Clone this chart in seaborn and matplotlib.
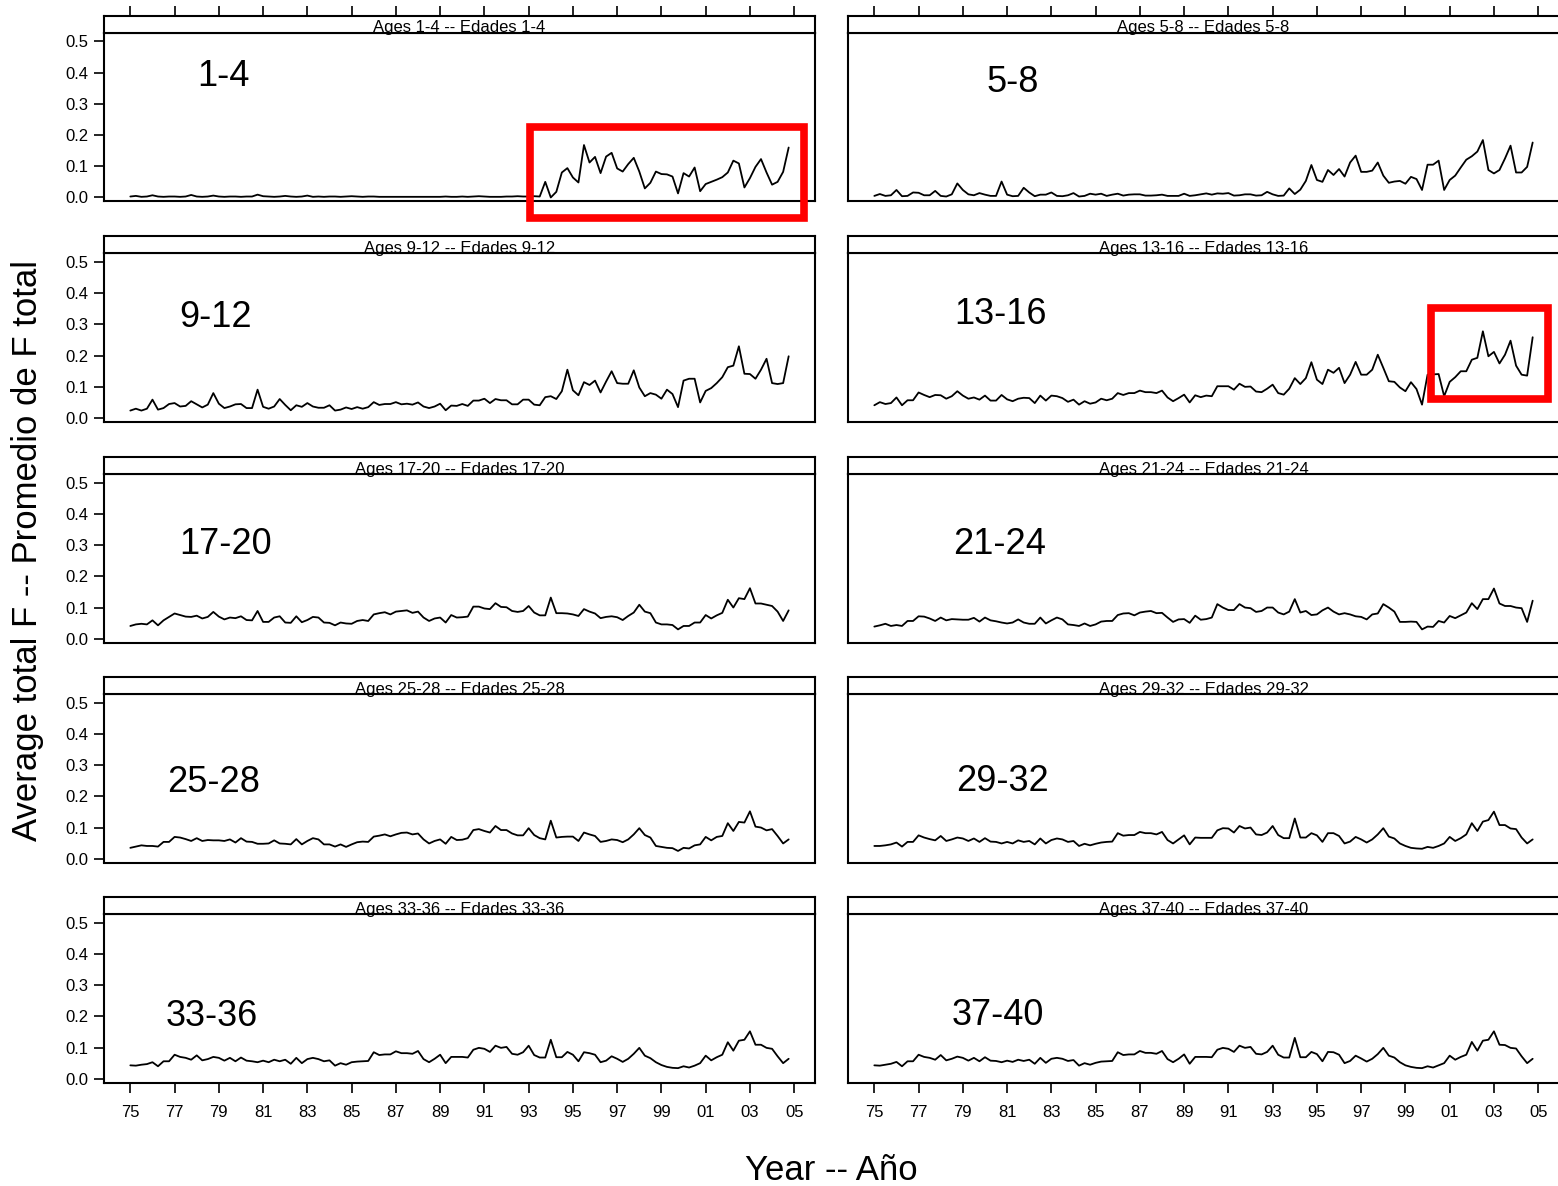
import numpy as np
import pandas as pd
import matplotlib
matplotlib.use("Agg")
import matplotlib.pyplot as plt
from matplotlib.patches import Rectangle
import seaborn as sns

# ---------------- data ----------------
age_groups = ["1-4", "5-8", "9-12", "13-16", "17-20",
              "21-24", "25-28", "29-32", "33-36", "37-40"]

first_year = 1975
n_quarters = 120

tick_years = [1975, 1977, 1979, 1981, 1983, 1985, 1987, 1989,
              1991, 1993, 1995, 1997, 1999, 2001, 2003, 2005]
tick_labels = ["75", "77", "79", "81", "83", "85", "87", "89",
               "91", "93", "95", "97", "99", "01", "03", "05"]
y_ticks = [0.0, 0.1, 0.2, 0.3, 0.4, 0.5]
y_tick_labels = ["0.0", "0.1", "0.2", "0.3", "0.4", "0.5"]

f_1_4 = [0.003, 0.005, 0.002, 0.003, 0.007, 0.003, 0.002, 0.003, 0.003, 0.002,
         0.003, 0.008, 0.003, 0.002, 0.003, 0.006, 0.003, 0.002, 0.003, 0.003,
         0.002, 0.003, 0.003, 0.009, 0.004, 0.003, 0.002, 0.003, 0.005, 0.003,
         0.002, 0.003, 0.006, 0.002, 0.003, 0.002, 0.003, 0.003, 0.002, 0.003,
         0.004, 0.003, 0.002, 0.003, 0.003, 0.002, 0.002, 0.002, 0.002, 0.002,
         0.002, 0.002, 0.002, 0.002, 0.002, 0.002, 0.002, 0.003, 0.002, 0.002,
         0.003, 0.002, 0.003, 0.004, 0.003, 0.002, 0.002, 0.002, 0.003, 0.003,
         0.004, 0.003, 0.003, 0.004, 0.003, 0.050, 0.000, 0.018, 0.080, 0.094,
         0.064, 0.048, 0.168, 0.112, 0.130, 0.078, 0.131, 0.143, 0.093, 0.083,
         0.107, 0.127, 0.083, 0.029, 0.047, 0.083, 0.075, 0.074, 0.067, 0.013,
         0.078, 0.067, 0.096, 0.020, 0.043, 0.050, 0.057, 0.065, 0.080, 0.118,
         0.109, 0.032, 0.062, 0.098, 0.123, 0.080, 0.041, 0.050, 0.082, 0.160]

f_5_8 = [0.005, 0.011, 0.005, 0.007, 0.024, 0.004, 0.005, 0.016, 0.015, 0.007,
         0.007, 0.021, 0.005, 0.003, 0.010, 0.045, 0.024, 0.010, 0.007, 0.014,
         0.009, 0.005, 0.005, 0.051, 0.009, 0.004, 0.005, 0.031, 0.016, 0.004,
         0.009, 0.009, 0.016, 0.005, 0.004, 0.007, 0.014, 0.003, 0.005, 0.012,
         0.009, 0.012, 0.005, 0.009, 0.012, 0.006, 0.009, 0.010, 0.010, 0.006,
         0.006, 0.007, 0.009, 0.005, 0.005, 0.005, 0.012, 0.005, 0.007, 0.010,
         0.013, 0.009, 0.013, 0.012, 0.014, 0.006, 0.007, 0.010, 0.010, 0.006,
         0.007, 0.018, 0.010, 0.005, 0.006, 0.029, 0.011, 0.025, 0.053, 0.104,
         0.056, 0.050, 0.088, 0.072, 0.091, 0.067, 0.112, 0.134, 0.082, 0.082,
         0.086, 0.112, 0.070, 0.047, 0.051, 0.053, 0.044, 0.066, 0.059, 0.024,
         0.105, 0.105, 0.118, 0.024, 0.056, 0.070, 0.096, 0.121, 0.132, 0.147,
         0.184, 0.088, 0.077, 0.088, 0.125, 0.166, 0.080, 0.080, 0.098, 0.176]

f_9_12 = [0.024, 0.030, 0.024, 0.030, 0.059, 0.027, 0.032, 0.045, 0.048, 0.037,
          0.039, 0.054, 0.044, 0.034, 0.043, 0.080, 0.046, 0.032, 0.037, 0.044,
          0.045, 0.032, 0.032, 0.091, 0.036, 0.030, 0.037, 0.061, 0.042, 0.025,
          0.041, 0.036, 0.048, 0.037, 0.033, 0.033, 0.041, 0.024, 0.027, 0.034,
          0.029, 0.035, 0.030, 0.035, 0.051, 0.042, 0.045, 0.045, 0.051, 0.044,
          0.046, 0.043, 0.050, 0.037, 0.032, 0.037, 0.046, 0.025, 0.040, 0.039,
          0.045, 0.039, 0.056, 0.056, 0.062, 0.048, 0.061, 0.057, 0.057, 0.044,
          0.044, 0.059, 0.059, 0.043, 0.041, 0.067, 0.070, 0.061, 0.086, 0.155,
          0.089, 0.073, 0.115, 0.106, 0.120, 0.082, 0.117, 0.150, 0.112, 0.110,
          0.110, 0.153, 0.098, 0.070, 0.080, 0.075, 0.062, 0.091, 0.077, 0.035,
          0.120, 0.126, 0.126, 0.050, 0.087, 0.096, 0.112, 0.131, 0.163, 0.168,
          0.230, 0.142, 0.141, 0.126, 0.155, 0.190, 0.112, 0.109, 0.112, 0.198]

f_13_16 = [0.041, 0.051, 0.045, 0.048, 0.066, 0.041, 0.057, 0.057, 0.082, 0.074,
           0.067, 0.074, 0.073, 0.062, 0.070, 0.086, 0.072, 0.062, 0.066, 0.059,
           0.072, 0.056, 0.056, 0.074, 0.060, 0.054, 0.062, 0.065, 0.064, 0.048,
           0.072, 0.056, 0.072, 0.070, 0.064, 0.052, 0.059, 0.043, 0.054, 0.046,
           0.050, 0.062, 0.057, 0.062, 0.080, 0.074, 0.080, 0.080, 0.088, 0.083,
           0.083, 0.080, 0.088, 0.066, 0.054, 0.064, 0.075, 0.050, 0.073, 0.067,
           0.072, 0.070, 0.102, 0.102, 0.102, 0.091, 0.110, 0.100, 0.101, 0.085,
           0.083, 0.094, 0.107, 0.080, 0.075, 0.094, 0.128, 0.109, 0.128, 0.179,
           0.123, 0.109, 0.155, 0.145, 0.161, 0.112, 0.139, 0.180, 0.139, 0.139,
           0.155, 0.203, 0.161, 0.118, 0.116, 0.098, 0.086, 0.115, 0.093, 0.043,
           0.139, 0.140, 0.141, 0.070, 0.116, 0.131, 0.150, 0.150, 0.187, 0.193,
           0.278, 0.198, 0.212, 0.175, 0.203, 0.248, 0.168, 0.139, 0.136, 0.259]

f_17_20 = [0.041, 0.046, 0.048, 0.046, 0.059, 0.043, 0.059, 0.070, 0.081, 0.076,
           0.071, 0.070, 0.074, 0.065, 0.070, 0.086, 0.071, 0.062, 0.068, 0.066,
           0.072, 0.060, 0.059, 0.089, 0.054, 0.054, 0.068, 0.072, 0.052, 0.051,
           0.072, 0.053, 0.060, 0.070, 0.068, 0.052, 0.051, 0.043, 0.052, 0.049,
           0.048, 0.057, 0.060, 0.057, 0.078, 0.082, 0.085, 0.078, 0.087, 0.089,
           0.091, 0.083, 0.087, 0.068, 0.057, 0.065, 0.068, 0.052, 0.076, 0.068,
           0.069, 0.071, 0.103, 0.103, 0.097, 0.095, 0.114, 0.102, 0.101, 0.089,
           0.086, 0.089, 0.105, 0.084, 0.075, 0.075, 0.132, 0.082, 0.082, 0.081,
           0.078, 0.073, 0.095, 0.087, 0.081, 0.066, 0.070, 0.072, 0.069, 0.060,
           0.073, 0.084, 0.109, 0.087, 0.082, 0.052, 0.046, 0.046, 0.044, 0.030,
           0.041, 0.041, 0.052, 0.052, 0.076, 0.065, 0.075, 0.083, 0.125, 0.100,
           0.130, 0.127, 0.162, 0.113, 0.113, 0.109, 0.105, 0.087, 0.057, 0.091]

f_21_24 = [0.039, 0.043, 0.048, 0.041, 0.044, 0.041, 0.057, 0.057, 0.072, 0.071,
           0.065, 0.057, 0.068, 0.059, 0.063, 0.062, 0.061, 0.061, 0.067, 0.055,
           0.068, 0.059, 0.056, 0.052, 0.049, 0.052, 0.062, 0.052, 0.048, 0.048,
           0.068, 0.049, 0.059, 0.068, 0.062, 0.046, 0.044, 0.041, 0.049, 0.041,
           0.046, 0.055, 0.057, 0.057, 0.076, 0.081, 0.082, 0.075, 0.084, 0.087,
           0.089, 0.082, 0.083, 0.068, 0.054, 0.062, 0.063, 0.051, 0.074, 0.061,
           0.063, 0.068, 0.111, 0.100, 0.092, 0.092, 0.111, 0.100, 0.098, 0.086,
           0.089, 0.100, 0.100, 0.084, 0.078, 0.087, 0.127, 0.084, 0.089, 0.076,
           0.078, 0.091, 0.100, 0.087, 0.078, 0.082, 0.078, 0.072, 0.070, 0.062,
           0.078, 0.081, 0.111, 0.100, 0.087, 0.054, 0.054, 0.055, 0.054, 0.030,
           0.039, 0.038, 0.057, 0.052, 0.073, 0.066, 0.075, 0.084, 0.114, 0.095,
           0.127, 0.127, 0.161, 0.113, 0.105, 0.105, 0.100, 0.098, 0.054, 0.122]

f_25_28 = [0.035, 0.039, 0.043, 0.041, 0.041, 0.039, 0.054, 0.054, 0.070, 0.068,
           0.063, 0.057, 0.066, 0.057, 0.060, 0.059, 0.059, 0.057, 0.062, 0.052,
           0.066, 0.055, 0.054, 0.048, 0.048, 0.049, 0.059, 0.049, 0.048, 0.046,
           0.063, 0.046, 0.057, 0.066, 0.062, 0.046, 0.046, 0.039, 0.046, 0.038,
           0.046, 0.053, 0.055, 0.054, 0.071, 0.074, 0.078, 0.072, 0.078, 0.083,
           0.084, 0.078, 0.081, 0.062, 0.049, 0.057, 0.062, 0.048, 0.070, 0.060,
           0.061, 0.066, 0.092, 0.095, 0.089, 0.084, 0.105, 0.092, 0.092, 0.081,
           0.075, 0.075, 0.098, 0.076, 0.066, 0.062, 0.122, 0.068, 0.070, 0.071,
           0.071, 0.057, 0.084, 0.078, 0.073, 0.054, 0.057, 0.062, 0.060, 0.053,
           0.062, 0.078, 0.098, 0.076, 0.068, 0.041, 0.038, 0.035, 0.034, 0.025,
           0.035, 0.033, 0.043, 0.046, 0.070, 0.059, 0.070, 0.073, 0.114, 0.089,
           0.118, 0.116, 0.152, 0.103, 0.100, 0.091, 0.095, 0.073, 0.049, 0.062]

f_29_32 = [0.041, 0.041, 0.043, 0.046, 0.052, 0.039, 0.054, 0.054, 0.075, 0.068,
           0.063, 0.059, 0.073, 0.057, 0.062, 0.068, 0.065, 0.057, 0.065, 0.054,
           0.066, 0.055, 0.054, 0.049, 0.054, 0.049, 0.059, 0.054, 0.057, 0.046,
           0.065, 0.049, 0.060, 0.065, 0.062, 0.054, 0.057, 0.041, 0.048, 0.043,
           0.048, 0.052, 0.054, 0.055, 0.082, 0.074, 0.076, 0.076, 0.086, 0.082,
           0.082, 0.078, 0.086, 0.060, 0.049, 0.062, 0.075, 0.046, 0.068, 0.067,
           0.067, 0.067, 0.091, 0.098, 0.097, 0.084, 0.105, 0.097, 0.100, 0.078,
           0.076, 0.084, 0.105, 0.076, 0.066, 0.066, 0.129, 0.068, 0.068, 0.082,
           0.075, 0.054, 0.082, 0.082, 0.073, 0.049, 0.055, 0.070, 0.062, 0.052,
           0.062, 0.078, 0.098, 0.071, 0.065, 0.049, 0.041, 0.035, 0.033, 0.032,
           0.038, 0.035, 0.041, 0.049, 0.070, 0.057, 0.066, 0.078, 0.114, 0.089,
           0.119, 0.124, 0.151, 0.108, 0.108, 0.097, 0.095, 0.068, 0.049, 0.062]

f_33_36 = [0.043, 0.042, 0.045, 0.047, 0.053, 0.040, 0.056, 0.056, 0.077, 0.070,
           0.067, 0.061, 0.075, 0.059, 0.063, 0.070, 0.067, 0.058, 0.067, 0.056,
           0.068, 0.058, 0.056, 0.053, 0.058, 0.053, 0.061, 0.056, 0.061, 0.048,
           0.067, 0.050, 0.063, 0.067, 0.063, 0.056, 0.059, 0.042, 0.050, 0.045,
           0.053, 0.055, 0.056, 0.057, 0.085, 0.076, 0.078, 0.078, 0.088, 0.082,
           0.082, 0.080, 0.089, 0.063, 0.053, 0.064, 0.077, 0.050, 0.070, 0.070,
           0.070, 0.068, 0.093, 0.099, 0.096, 0.086, 0.106, 0.099, 0.102, 0.080,
           0.077, 0.085, 0.106, 0.076, 0.068, 0.068, 0.125, 0.069, 0.069, 0.086,
           0.077, 0.056, 0.085, 0.082, 0.077, 0.053, 0.058, 0.072, 0.064, 0.054,
           0.064, 0.080, 0.099, 0.074, 0.066, 0.053, 0.044, 0.038, 0.035, 0.034,
           0.040, 0.036, 0.042, 0.050, 0.074, 0.059, 0.069, 0.077, 0.117, 0.090,
           0.122, 0.125, 0.152, 0.109, 0.109, 0.099, 0.096, 0.072, 0.050, 0.064]

f_37_40 = [0.043, 0.042, 0.045, 0.048, 0.054, 0.040, 0.056, 0.056, 0.077, 0.070,
           0.067, 0.061, 0.076, 0.059, 0.064, 0.071, 0.067, 0.058, 0.067, 0.056,
           0.069, 0.058, 0.057, 0.053, 0.058, 0.054, 0.061, 0.057, 0.061, 0.048,
           0.067, 0.051, 0.064, 0.067, 0.064, 0.057, 0.060, 0.042, 0.050, 0.045,
           0.051, 0.055, 0.056, 0.057, 0.085, 0.076, 0.078, 0.078, 0.089, 0.083,
           0.083, 0.080, 0.089, 0.063, 0.053, 0.064, 0.078, 0.048, 0.070, 0.070,
           0.070, 0.069, 0.093, 0.099, 0.096, 0.086, 0.106, 0.099, 0.102, 0.080,
           0.078, 0.086, 0.106, 0.077, 0.068, 0.068, 0.131, 0.069, 0.069, 0.086,
           0.079, 0.056, 0.086, 0.085, 0.077, 0.050, 0.057, 0.074, 0.065, 0.055,
           0.064, 0.079, 0.099, 0.074, 0.068, 0.053, 0.043, 0.038, 0.035, 0.034,
           0.040, 0.036, 0.043, 0.050, 0.074, 0.061, 0.070, 0.077, 0.118, 0.090,
           0.122, 0.125, 0.152, 0.109, 0.108, 0.099, 0.097, 0.072, 0.050, 0.064]

# ---------------- layout / style (not data) ----------------
series_list = [f_1_4, f_5_8, f_9_12, f_13_16, f_17_20,
               f_21_24, f_25_28, f_29_32, f_33_36, f_37_40]
quarter_years = first_year + np.arange(n_quarters) / 4.0

rows = []
for g, vals in zip(age_groups, series_list):
    for yr, v in zip(quarter_years, vals):
        rows.append({"group": g, "year": yr, "F": v})
df = pd.DataFrame(rows)

# big inner label anchor (x in years, baseline y in F units)
label_pos = [(1979.21, 0.358), (1981.27, 0.339), (1978.87, 0.293), (1980.72, 0.302),
             (1979.32, 0.272), (1980.68, 0.272), (1978.74, 0.215), (1980.81, 0.218),
             (1978.69, 0.170), (1980.59, 0.173)]
# highlighted boxes: panel index -> (x0, y0, x1, y1)
red_boxes = {0: (1993.06, -0.067, 2005.45, 0.227),
             3: (2000.15, 0.062, 2005.45, 0.353)}

sns.set_style("white")
plt.rcParams["font.family"] = ["Liberation Sans", "DejaVu Sans"]

W, H = 1558, 1186
fig = plt.figure(figsize=(W / 100, H / 100), dpi=100)


def rect(l, t, w, h):
    return [l / W, 1 - (t + h) / H, w / W, h / H]


col_left = [104, 848]
panel_w = 711
plot_top = [32.7, 253.3, 474.0, 694.0, 914.0]
plot_h = 168.5
strip_h = 17.0
XLIM = (1973.81, 2005.94)
YLIM = (-0.012, 0.528)
SPINE_LW = 1.5

for i, g in enumerate(age_groups):
    r, c = divmod(i, 2)
    ax = fig.add_axes(rect(col_left[c], plot_top[r], panel_w, plot_h))
    sub = df[df["group"] == g]
    sns.lineplot(data=sub, x="year", y="F", ax=ax, color="black",
                 linewidth=1.3, estimator=None, legend=False)
    ax.set_xlim(XLIM)
    ax.set_ylim(YLIM)
    ax.set_xlabel("")
    ax.set_ylabel("")
    for name, sp in ax.spines.items():
        sp.set_visible(True)
        sp.set_color("black")
        sp.set_linewidth(SPINE_LW)
    if c == 1:
        ax.spines["right"].set_visible(False)

    # x ticks only on bottom row
    ax.set_xticks(tick_years)
    if r == 4:
        ax.set_xticklabels(tick_labels)
        ax.tick_params(axis="x", bottom=True, top=False, labelbottom=True,
                       length=7, width=1.2, direction="out", pad=9,
                       labelsize=12, color="black", labelcolor="black")
    else:
        ax.tick_params(axis="x", bottom=False, top=False, labelbottom=False)

    # y ticks only on left column
    ax.set_yticks(y_ticks)
    if c == 0:
        ax.set_yticklabels(y_tick_labels)
        ax.tick_params(axis="y", left=True, right=False, labelleft=True,
                       length=7, width=1.2, direction="out", pad=4.5,
                       labelsize=12, color="black", labelcolor="black")
    else:
        ax.tick_params(axis="y", left=False, right=False, labelleft=False)

    lx, ly = label_pos[i]
    ax.text(lx, ly, g, fontsize=26, ha="center", va="baseline", color="black")

    if i in red_boxes:
        x0, y0, x1, y1 = red_boxes[i]
        ax.add_patch(Rectangle((x0, y0), x1 - x0, y1 - y0, fill=False,
                               edgecolor="#ff0000", linewidth=5.5,
                               clip_on=False, zorder=5))

    # strip
    sax = fig.add_axes(rect(col_left[c], plot_top[r] - strip_h, panel_w, strip_h))
    sax.set_xlim(XLIM)
    sax.set_ylim(0, 1)
    sax.set_yticks([])
    sax.set_facecolor("white")
    for sp in sax.spines.values():
        sp.set_visible(True)
        sp.set_color("black")
        sp.set_linewidth(SPINE_LW)
    if c == 1:
        sax.spines["right"].set_visible(False)
    if r == 0:
        sax.set_xticks(tick_years)
        sax.tick_params(axis="x", top=True, bottom=False, labeltop=False,
                        labelbottom=False, length=7, width=1.2,
                        direction="out", color="black")
    else:
        sax.set_xticks([])
    sax.text(0.5, 0.02, f"Ages {g} -- Edades {g}", transform=sax.transAxes,
             ha="center", va="baseline", fontsize=12, color="black",
             clip_on=False)

fig.text(28 / W, 1 - 550 / H, "Average total F -- Promedio de F total",
         rotation=90, ha="center", va="center", fontsize=25, color="black")
fig.text(831 / W, 1 - 1171 / H, "Year -- Año", ha="center", va="center",
         fontsize=25, color="black")

fig.savefig("out.png", dpi=100)
